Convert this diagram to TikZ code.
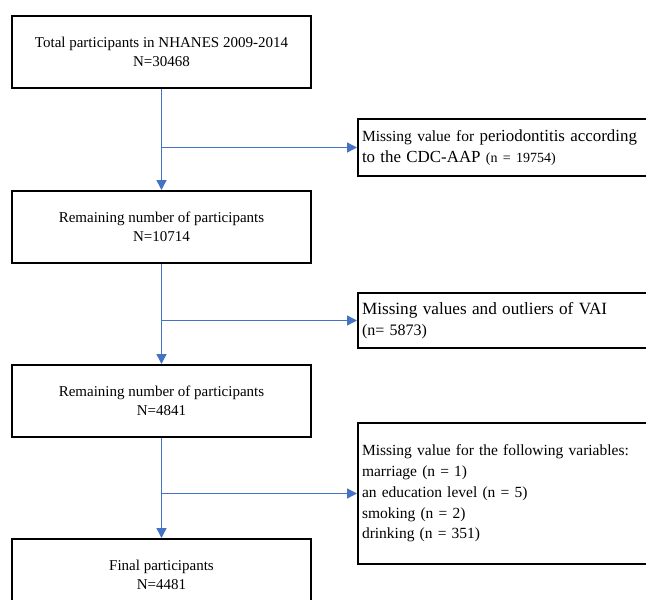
\documentclass[tikz,border=0pt]{standalone}
\usepackage{fontspec}
\setmainfont{Liberation Serif}
\usetikzlibrary{arrows.meta,positioning,calc}

\begin{document}
\begin{tikzpicture}[
  x=1pt, y=1pt,
  box/.style={draw, line width=2pt, align=center, minimum width=299pt, minimum height=72pt, inner sep=0pt, font=\fontsize{15}{19}\selectfont},
  side/.style={draw, line width=2pt, align=left, anchor=west, text width=316pt, inner xsep=4pt, inner ysep=0pt, font=\fontsize{16}{20.5}\selectfont},
  arr/.style={-{Triangle[length=10pt, width=10pt]}, line width=1.5pt, color=arrblue}
]
\definecolor{arrblue}{RGB}{68,114,196}
\useasboundingbox (0,0) rectangle (646,-600);
\clip (0,0) rectangle (646,-600);

\node[box] (total) at (161.5,-52) {Total participants in NHANES 2009-2014\\N=30468};
\node[box, below=101pt of total] (remainA) {Remaining number of participants\\N=10714};
\node[box, below=100pt of remainA] (remainB) {Remaining number of participants\\N=4841};
\node[box, below=100pt of remainB] (final) {Final participants\\N=4481};

\node[side, minimum height=57pt] (perio) at (357,-147.5) {{\fontsize{15.5}{20}\selectfont Missing value for} {\fontsize{16.9}{20}\selectfont periodontitis according}\\{\fontsize{16.9}{20}\selectfont to the CDC-AAP} {\fontsize{14}{20}\selectfont (n = 19754)}};
\node[side, minimum height=55pt] (vai) at (357,-320.5) {{\fontsize{17.2}{21}\selectfont Missing values and outliers of VAI}\\(n= 5873)};
\node[side, minimum height=141pt, font=\fontsize{15.5}{20.8}\selectfont] (covar) at (357,-493.5) {Missing value for the following variables:\\marriage (n = 1)\\an education level (n = 5)\\smoking (n = 2)\\drinking (n = 351)};

\draw[arr] (total) -- (remainA);
\draw[arr] (remainA) -- (remainB);
\draw[arr] (remainB) -- (final);
\draw[arr] (total.south |- perio.west) -- (perio.west);
\draw[arr] (remainA.south |- vai.west) -- (vai.west);
\draw[arr] (remainB.south |- covar.west) -- (covar.west);

\end{tikzpicture}
\end{document}
